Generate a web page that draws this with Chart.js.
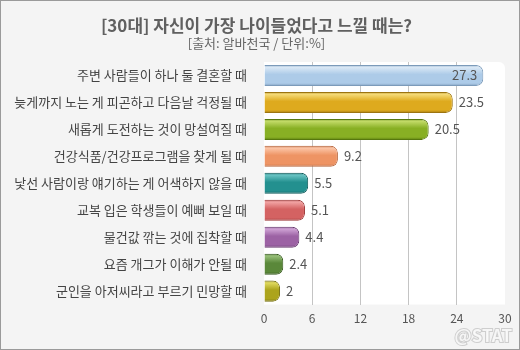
<!DOCTYPE html>
<html>
<head>
<meta charset="utf-8">
<script src="https://cdn.jsdelivr.net/npm/chart.js@4"></script>
<style>
  body { margin: 0; background: #fff; }
  #wrap { width: 520px; height: 350px; }
</style>
</head>
<body>
<div id="wrap"><canvas id="grafico" width="520" height="350"></canvas></div>
<script>
// 항목 (categorias)
const categorias = [
  '주변 사람들이 하나 둘 결혼할 때',
  '늦게까지 노는 게 피곤하고 다음날 걱정될 때',
  '새롭게 도전하는 것이 망설여질 때',
  '건강식품/건강프로그램을 찾게 될 때',
  '낯선 사람이랑 얘기하는 게 어색하지 않을 때',
  '교복 입은 학생들이 예뻐 보일 때',
  '물건값 깎는 것에 집착할 때',
  '요즘 개그가 이해가 안될 때',
  '군인을 아저씨라고 부르기 민망할 때'
];

// 응답 비율 (%)
const valores = [27.3, 23.5, 20.5, 9.2, 5.5, 5.1, 4.4, 2.4, 2];

// eixo x
const ticksX = [0, 6, 12, 18, 24, 30];

const titulo = '[30대] 자신이 가장 나이들었다고 느낄 때는?';
const subtitulo = '[출처: 알바천국 / 단위:%]';

// cores das barras: [claro, base, escuro]
const coresBarras = [
  ['#dbe9f6', '#adcbe8', '#7c9bba'],
  ['#f6dc7a', '#deaa1e', '#9c7410'],
  ['#c4dc6a', '#88b024', '#56780e'],
  ['#fcc6a8', '#ee9464', '#b8643a'],
  ['#6ac4c4', '#23908f', '#0e5a5a'],
  ['#f2a4a4', '#d46262', '#9c3434'],
  ['#d0a4d6', '#9c62a4', '#683a70'],
  ['#98c07a', '#5a883a', '#365a1e'],
  ['#e0da60', '#aca41c', '#746e0c']
];

const fonte = '"Noto Sans CJK KR", "Noto Sans", sans-serif';

function gradienteBarra(context) {
  const chart = context.chart;
  const cor = coresBarras[context.dataIndex % coresBarras.length];
  if (!chart.chartArea) return cor[1];
  const y = chart.scales.y.getPixelForValue(context.dataIndex);
  const g = chart.ctx.createLinearGradient(0, y - 11, 0, y + 11);
  g.addColorStop(0, cor[2]);
  g.addColorStop(0.12, cor[0]);
  g.addColorStop(0.45, cor[1]);
  g.addColorStop(0.85, cor[1]);
  g.addColorStop(1, cor[2]);
  return g;
}

// fundo cinza, borda e área branca do gráfico
const pluginFundo = {
  id: 'fundo',
  beforeDraw(chart) {
    const { ctx, chartArea: a } = chart;
    ctx.save();
    ctx.fillStyle = '#f4f4f4';
    ctx.fillRect(0, 0, chart.width, chart.height);
    ctx.strokeStyle = '#9a9a9a';
    ctx.lineWidth = 1;
    ctx.strokeRect(0.5, 0.5, chart.width - 1, chart.height - 1);
    ctx.fillStyle = '#ffffff';
    ctx.beginPath();
    ctx.roundRect(a.left, a.top, a.right - a.left, a.bottom - a.top, [0, 6, 0, 0]);
    ctx.fill();
    ctx.restore();
  }
};

// rótulos de valor
const pluginValores = {
  id: 'valores',
  afterDatasetsDraw(chart) {
    const { ctx, chartArea } = chart;
    const meta = chart.getDatasetMeta(0);
    ctx.save();
    ctx.font = '13px ' + fonte;
    ctx.fillStyle = '#555';
    ctx.textBaseline = 'middle';
    meta.data.forEach((bar, i) => {
      const txt = String(valores[i]);
      const w = ctx.measureText(txt).width;
      if (bar.x + 6 + w > chartArea.right - 10) {
        ctx.textAlign = 'right';
        ctx.fillText(txt, bar.x - 6, bar.y);
      } else {
        ctx.textAlign = 'left';
        ctx.fillText(txt, bar.x + 6, bar.y);
      }
    });
    // marca d'água
    ctx.font = 'bold 17px ' + fonte;
    ctx.textAlign = 'right';
    ctx.lineWidth = 2;
    ctx.strokeStyle = 'rgba(190,190,190,0.7)';
    ctx.strokeText('@STAT', 512, 336);
    ctx.fillStyle = 'rgba(255,255,255,0.8)';
    ctx.fillText('@STAT', 512, 336);
    ctx.restore();
  }
};

const ctx = document.getElementById('grafico').getContext('2d');
const grafico = new Chart(ctx, {
  type: 'bar',
  data: {
    labels: categorias,
    datasets: [{
      data: valores,
      backgroundColor: gradienteBarra,
      borderColor: (c) => coresBarras[c.dataIndex % coresBarras.length][2],
      borderWidth: 1,
      borderSkipped: 'start',
      borderRadius: { topLeft: 0, bottomLeft: 0, topRight: 7, bottomRight: 7 },
      categoryPercentage: 1,
      barPercentage: 0.78
    }]
  },
  options: {
    indexAxis: 'y',
    responsive: false,
    animation: false,
    layout: { padding: { top: 15, left: 8, right: 15, bottom: 17 } },
    plugins: {
      legend: { display: false },
      tooltip: { enabled: false },
      title: {
        display: true,
        text: titulo,
        color: '#606060',
        font: { family: fonte, size: 17, weight: 'bold' },
        padding: { top: 0, bottom: 0 }
      },
      subtitle: {
        display: true,
        text: subtitulo,
        color: '#666',
        font: { family: fonte, size: 13 },
        padding: { top: 0, bottom: 11 }
      }
    },
    scales: {
      x: {
        min: 0,
        max: 30,
        afterBuildTicks: (s) => { s.ticks = ticksX.map(v => ({ value: v })); },
        grid: {
          color: (c) => (c.tick && c.tick.value > 0 && c.tick.value < 30) ? '#c4c4c4' : 'rgba(0,0,0,0)',
          drawTicks: false
        },
        border: { display: false },
        ticks: { color: '#555', font: { family: fonte, size: 12 }, padding: 7 }
      },
      y: {
        afterFit: (s) => { s.width = 256; },
        grid: { display: false },
        border: { display: false },
        ticks: { color: '#444', font: { family: fonte, size: 13 }, padding: 9 }
      }
    }
  },
  plugins: [pluginFundo, pluginValores]
});
</script>
</body>
</html>
